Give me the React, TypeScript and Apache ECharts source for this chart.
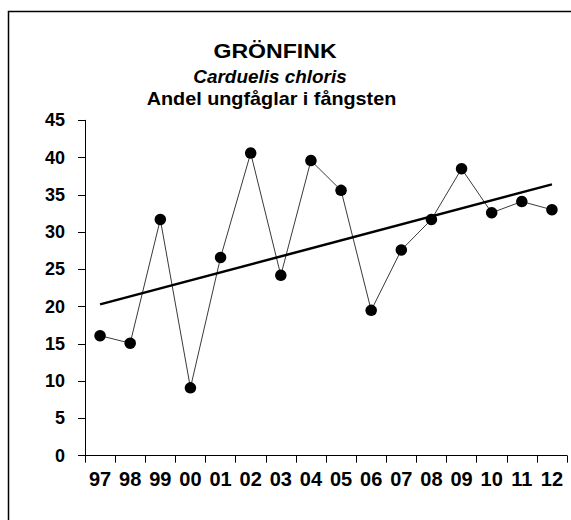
import React, { useEffect, useRef } from "react";
import * as echarts from "echarts";

const years = ["97", "98", "99", "00", "01", "02", "03", "04", "05", "06", "07", "08", "09", "10", "11", "12"];
const andel = [16.1, 15.1, 31.7, 9.1, 26.6, 40.6, 24.2, 39.6, 35.6, 19.5, 27.6, 31.7, 38.5, 32.6, 34.1, 33.0];
const trendEnds = [20.3, 36.4];
const yTicks = { min: 0, max: 45, step: 5 };
const titleLines = ["GRÖNFINK", "Carduelis chloris", "Andel ungfåglar i fångsten"];

const FONT = "'Liberation Sans', Arial, sans-serif";

export default function App() {
  const ref = useRef<HTMLDivElement>(null);
  useEffect(() => {
    if (!ref.current) return;
    const chart = echarts.init(ref.current, undefined, { renderer: "svg" });
    const last = years.length - 1;
    const trend = years.map((_, i) => (i === 0 ? trendEnds[0] : i === last ? trendEnds[1] : null));
    chart.setOption({
      animation: false,
      backgroundColor: "#fff",
      textStyle: { fontFamily: FONT },
      graphic: [
        {
          type: "polyline",
          shape: { points: [[8.5, 600], [8.5, 11.5], [600, 11.5]] },
          style: { stroke: "#000", lineWidth: 1.5, fill: "none" },
          silent: true,
        },
        {
          type: "text",
          x: 275,
          y: 51,
          scaleX: 1.1,
          style: { text: titleLines[0], fontFamily: FONT, fontWeight: "bold", fontSize: 21, fill: "#000", align: "center", verticalAlign: "middle" },
        },
        {
          type: "text",
          x: 270,
          y: 77,
          scaleX: 1.08,
          style: { text: titleLines[1], fontFamily: FONT, fontWeight: "bold", fontStyle: "italic", fontSize: 17.5, fill: "#000", align: "center", verticalAlign: "middle" },
        },
        {
          type: "text",
          x: 271.5,
          y: 99,
          scaleX: 1.1,
          style: { text: titleLines[2], fontFamily: FONT, fontWeight: "bold", fontSize: 18, fill: "#000", align: "center", verticalAlign: "middle" },
        },
      ],
      grid: { left: 85, right: 4, top: 120.3, bottom: 64.3, containLabel: false },
      xAxis: {
        type: "category",
        data: years,
        boundaryGap: true,
        axisLine: { show: true, lineStyle: { color: "#000", width: 1 } },
        axisTick: { show: true, alignWithLabel: false, length: 7, lineStyle: { color: "#000" } },
        axisLabel: { color: "#000", fontFamily: FONT, fontWeight: "bold", fontSize: 20, margin: 13, interval: 0 },
        splitLine: { show: false },
      },
      yAxis: {
        type: "value",
        min: yTicks.min,
        max: yTicks.max,
        interval: yTicks.step,
        axisLine: { show: true, lineStyle: { color: "#000", width: 1 } },
        axisTick: { show: true, length: 7, lineStyle: { color: "#000" } },
        axisLabel: { color: "#000", fontFamily: FONT, fontWeight: "bold", fontSize: 18, margin: 20 },
        splitLine: { show: false },
      },
      series: [
        {
          type: "line",
          data: andel,
          symbol: "circle",
          symbolSize: 11.5,
          itemStyle: { color: "#000" },
          lineStyle: { color: "#3a3a3a", width: 1 },
          z: 2,
        },
        {
          type: "line",
          data: trend,
          connectNulls: true,
          symbol: "none",
          lineStyle: { color: "#000", width: 2.5 },
          z: 3,
        },
      ],
    });
    return () => chart.dispose();
  }, []);
  return <div ref={ref} style={{ position: "fixed", left: 0, top: 0, width: 571, height: 520 }} />;
}
